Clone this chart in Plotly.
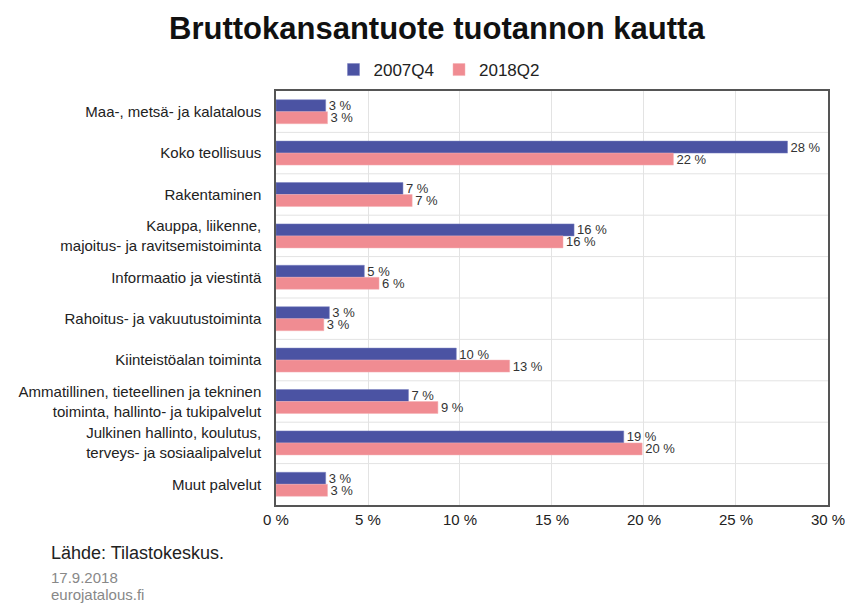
import plotly.graph_objects as go

categories = [
    "Maa-, metsä- ja kalatalous",
    "Koko teollisuus",
    "Rakentaminen",
    "Kauppa, liikenne,<br>majoitus- ja ravitsemistoiminta",
    "Informaatio ja viestintä",
    "Rahoitus- ja vakuutustoiminta",
    "Kiinteistöalan toiminta",
    "Ammatillinen, tieteellinen ja tekninen<br>toiminta, hallinto- ja tukipalvelut",
    "Julkinen hallinto, koulutus,<br>terveys- ja sosiaalipalvelut",
    "Muut palvelut",
]
values_2007q4 = [2.7, 27.8, 6.9, 16.2, 4.8, 2.9, 9.8, 7.2, 18.9, 2.7]
values_2018q2 = [2.8, 21.6, 7.4, 15.6, 5.6, 2.6, 12.7, 8.8, 19.9, 2.8]
x_ticks = [0, 5, 10, 15, 20, 25, 30]
x_tick_labels = ["0 %", "5 %", "10 %", "15 %", "20 %", "25 %", "30 %"]

BLUE = "#4B53A3"
PINK = "#F08C92"
FONT = "Liberation Sans, Arial, sans-serif"

L, R, T, B = 276, 17, 91, 98
W, H = 845, 603
plot_w = W - L - R
plot_h = H - T - B


def px_x(px):
    return (px - L) / plot_w


def px_y(py):
    return (H - B - py) / plot_h


fig = go.Figure()
fig.add_trace(go.Bar(
    y=categories, x=values_2007q4, name="2007Q4", orientation="h",
    marker=dict(color=BLUE, line=dict(color="#7A80C0", width=0.5)),
    texttemplate="%{x:.0f} %", textposition="outside", constraintext="none",
    textfont=dict(size=13, color="#333333", family=FONT), cliponaxis=False,
))
fig.add_trace(go.Bar(
    y=categories, x=values_2018q2, name="2018Q2", orientation="h",
    marker=dict(color=PINK, line=dict(color="#F5B0B4", width=0.5)),
    texttemplate="%{x:.0f} %", textposition="outside", constraintext="none",
    textfont=dict(size=13, color="#333333", family=FONT), cliponaxis=False,
))

# horizontal separators between categories
shapes = []
for i in range(len(categories) - 1):
    shapes.append(dict(type="line", xref="paper", yref="y", x0=0, x1=1,
                       y0=i + 0.5, y1=i + 0.5, line=dict(color="#E3E3E3", width=1),
                       layer="below"))

fig.update_layout(
    width=W, height=H,
    margin=dict(l=L, r=R, t=T, b=B, autoexpand=False),
    paper_bgcolor="white", plot_bgcolor="white",
    font=dict(family=FONT, color="#222222", size=13),
    title=dict(text="<b>Bruttokansantuote tuotannon kautta</b>", x=0.517, xanchor="center",
               y=1 - 28 / H, yanchor="middle", font=dict(size=31, color="#111111", family=FONT)),
    barmode="group", bargap=0.42, bargroupgap=0.0,
    legend=dict(orientation="h", x=px_x(439), xanchor="center", y=px_y(70), yanchor="middle",
                font=dict(size=17, color="#222222"), itemwidth=30, traceorder="normal"),
    shapes=shapes,
    xaxis=dict(range=[0, 30.001], tickvals=x_ticks, ticktext=x_tick_labels,
               showgrid=True, gridcolor="#E3E3E3", gridwidth=1,
               showline=True, linecolor="#555555", linewidth=1.5, mirror=True,
               tickfont=dict(size=15, color="#222222"), ticks="", zeroline=False,
               ticklabeloverflow="allow", automargin=False),
    yaxis=dict(autorange="reversed", showgrid=False,
               showline=True, linecolor="#555555", linewidth=1.5, mirror=True,
               tickfont=dict(size=15, color="#222222"), ticks="", ticklabelstandoff=10,
               automargin=False),
)

fig.add_annotation(text="Lähde: Tilastokeskus.", xref="paper", yref="paper",
                   x=px_x(49), y=px_y(553), xanchor="left", yanchor="middle",
                   showarrow=False, font=dict(size=18, color="#222222"))
fig.add_annotation(text="17.9.2018", xref="paper", yref="paper",
                   x=px_x(49), y=px_y(577), xanchor="left", yanchor="middle",
                   showarrow=False, font=dict(size=15, color="#888888"))
fig.add_annotation(text="eurojatalous.fi", xref="paper", yref="paper",
                   x=px_x(49), y=px_y(594), xanchor="left", yanchor="middle",
                   showarrow=False, font=dict(size=15, color="#888888"))

fig.write_html("out.html", config={"displayModeBar": False},
               post_script="document.body.style.margin='0px';document.body.style.overflow='hidden';")
